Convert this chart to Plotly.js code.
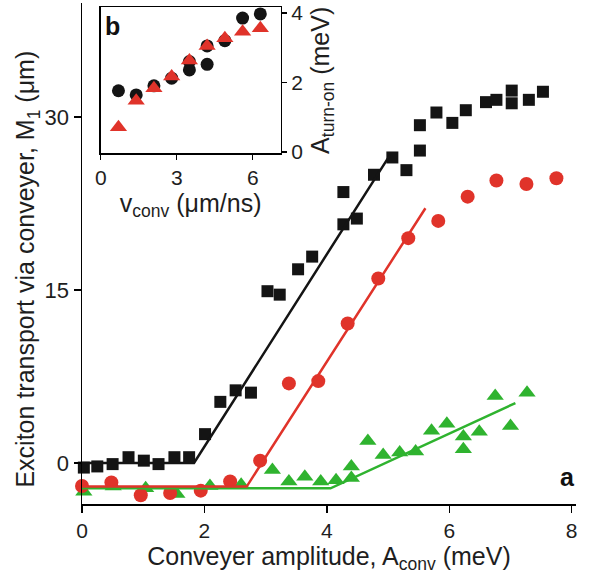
<!DOCTYPE html>
<html>
<head>
<meta charset="utf-8">
<script src="https://cdn.plot.ly/plotly-3.0.1.min.js"></script>
<style>
  html, body { margin: 0; padding: 0; background: #fff; }
  #chart { width: 590px; height: 583px; }
</style>
</head>
<body>
<div id="chart"></div>
<script>
// Panel a: exciton transport vs conveyer amplitude for three conveyer velocities
const blackX = [0.03, 0.25, 0.5, 0.76, 1.01, 1.25, 1.51, 1.75, 2.01, 2.26, 2.51, 2.76, 3.03, 3.23, 3.53, 3.76,
                4.27, 4.27, 4.49, 4.77, 5.07, 5.30, 5.52, 5.52, 5.79, 6.05, 6.27, 6.60, 6.77, 7.02, 7.02, 7.30, 7.53];
const blackY = [-0.4, -0.3, -0.1, 0.5, 0.2, -0.1, 0.5, 0.5, 2.5, 5.3, 6.3, 6.1, 14.9, 14.6, 16.8, 17.9,
                23.5, 20.7, 21.2, 25.0, 26.5, 25.4, 27.1, 29.3, 30.4, 29.5, 30.6, 31.3, 31.5, 32.3, 31.2, 31.5, 32.2];

const redX = [0.0, 0.48, 0.96, 1.44, 1.94, 2.42, 2.91, 3.38, 3.86, 4.34, 4.84, 5.33, 5.82, 6.30, 6.77, 7.26, 7.75];
const redY = [-2.0, -1.7, -2.8, -2.6, -2.4, -1.6, 0.2, 6.9, 7.1, 12.1, 16.0, 19.5, 21.0, 23.1, 24.5, 24.2, 24.7];

const greenX = [0.03, 0.51, 1.04, 1.55, 2.09, 2.6, 3.11, 3.38, 3.64, 3.9, 4.15, 4.4, 4.4, 4.67, 4.92, 5.19,
                5.45, 5.71, 5.96, 6.23, 6.23, 6.49, 6.75, 7.0, 7.27];
const greenY = [-2.5, -2.05, -2.2, -2.7, -2.0, -1.9, -0.6, -1.6, -1.2, -1.6, -1.5, -0.3, -1.3, 1.9, 0.7, 0.9,
                1.0, 2.8, 3.4, 2.3, 1.2, 2.7, 5.8, 3.2, 6.1];

// Piecewise-linear fits (flat background, then linear rise)
const blackFitX = [0, 1.83, 5.03];
const blackFitY = [0.0, 0.0, 26.7];
const redFitX = [0, 2.69, 5.61];
const redFitY = [-2.05, -2.05, 22.1];
const greenFitX = [0, 4.06, 7.08];
const greenFitY = [-2.2, -2.2, 5.2];

// Panel b: turn-on amplitude vs conveyer velocity
const insetBlackX = [0.7, 1.4, 2.1, 2.8, 3.5, 3.5, 4.2, 4.2, 4.9, 5.6, 6.3];
const insetBlackY = [1.76, 1.64, 1.90, 2.12, 2.60, 2.36, 3.05, 2.52, 3.20, 3.85, 3.97];
const insetRedX = [0.7, 1.4, 2.1, 2.8, 3.5, 4.2, 4.9, 5.6, 6.3];
const insetRedY = [0.71, 1.47, 1.83, 2.17, 2.63, 3.05, 3.27, 3.46, 3.56];

// Tick labels
const mainXTicks = [0, 2, 4, 6, 8];
const mainYTicks = [0, 15, 30];
const insetXTicks = [0, 3, 6];
const insetYTicks = [0, 2, 4];

const BLACK = '#141414';
const RED = '#e0332a';
const GREEN = '#2fb32f';
const GREEN_TEXT = '#339933';
const TEXT = '#1e1e1e';
const FONT = 'Liberation Sans, Arial, Helvetica, sans-serif';

function markers(x, y, symbol, color, size, xa, ya) {
  return {
    x: x, y: y, xaxis: xa, yaxis: ya, type: 'scatter', mode: 'markers',
    marker: { symbol: symbol, color: color, size: size, line: { width: 0 } },
    hoverinfo: 'skip', cliponaxis: false
  };
}
function fitLine(x, y, color) {
  return {
    x: x, y: y, xaxis: 'x', yaxis: 'y', type: 'scatter', mode: 'lines',
    line: { color: color, width: 2.5 }, hoverinfo: 'skip'
  };
}

const traces = [
  markers(greenX, greenY, 'triangle-up', GREEN, 15, 'x', 'y'),
  markers(redX, redY, 'circle', RED, 14, 'x', 'y'),
  markers(blackX, blackY, 'square', BLACK, 12, 'x', 'y'),
  fitLine(greenFitX, greenFitY, GREEN),
  fitLine(redFitX, redFitY, RED),
  fitLine(blackFitX, blackFitY, BLACK),
  markers(insetBlackX, insetBlackY, 'circle', BLACK, 13, 'x2', 'y2'),
  markers(insetRedX, insetRedY, 'triangle-up', RED, 15, 'x2', 'y2')
];

const axisCommon = {
  showgrid: false, zeroline: false, showline: true, linecolor: '#000', linewidth: 1.5,
  ticks: 'outside', tickcolor: '#000', tickwidth: 1.5,
  tickfont: { family: FONT, size: 22, color: TEXT }
};

const layout = {
  width: 590, height: 583,
  margin: { l: 82, r: 14, t: 3, b: 79 },
  paper_bgcolor: '#fff', plot_bgcolor: 'rgba(0,0,0,0)',
  showlegend: false,
  font: { family: FONT, color: TEXT },
  xaxis: Object.assign({}, axisCommon, {
    domain: [0, 1], range: [0, 8.07], tickvals: mainXTicks, ticklen: 7, anchor: 'y',
    tickfont: { family: FONT, size: 21, color: TEXT },
    title: { text: 'Conveyer amplitude, A<sub>conv</sub> (meV)', font: { family: FONT, size: 25, color: TEXT }, standoff: 6 }
  }),
  yaxis: Object.assign({}, axisCommon, {
    domain: [0, 1], range: [-3.56, 39.9], tickvals: mainYTicks, ticklen: 7, anchor: 'x'
  }),
  xaxis2: Object.assign({}, axisCommon, {
    domain: [0.0379, 0.402], range: [0, 7.1], tickvals: insetXTicks, ticklen: 5, anchor: 'y2', mirror: true,
    tickfont: { family: FONT, size: 21, color: TEXT },
    title: { text: 'v<sub>conv</sub> (μm/ns)', font: { family: FONT, size: 25, color: TEXT }, standoff: 6 }
  }),
  yaxis2: Object.assign({}, axisCommon, {
    domain: [0.700, 0.9914], range: [-0.04, 4.16], tickvals: insetYTicks, ticklen: 5, anchor: 'x2', side: 'right', mirror: true,
    tickfont: { family: FONT, size: 21, color: TEXT },
    title: { text: 'A<sub>turn-on</sub> (meV)', font: { family: FONT, size: 25, color: TEXT }, standoff: 9 }
  }),
  annotations: [
    // main y-axis title, placed by hand so it can sit slightly below the plot centre
    { xref: 'paper', yref: 'paper', x: -0.1113, y: 0.468, xanchor: 'center', yanchor: 'middle', showarrow: false,
      textangle: -90, text: 'Exciton transport via conveyer, M<sub>1</sub> (μm)', font: { family: FONT, size: 25, color: TEXT } },
    { xref: 'x', yref: 'y', x: 8.18, y: 34.1, xanchor: 'right', yanchor: 'middle', showarrow: false,
      text: 'v<sub>conv</sub>=0.7 μm/ns', font: { family: FONT, size: 20, color: '#111' } },
    { xref: 'x', yref: 'y', x: 8.18, y: 26.45, xanchor: 'right', yanchor: 'middle', showarrow: false,
      text: '3.5 μm/ns', font: { family: FONT, size: 20, color: RED } },
    { xref: 'x', yref: 'y', x: 8.18, y: 8.0, xanchor: 'right', yanchor: 'middle', showarrow: false,
      text: '6.3 μm/ns', font: { family: FONT, size: 20, color: GREEN_TEXT } },
    { xref: 'x', yref: 'y', x: 7.93, y: -1.2, xanchor: 'center', yanchor: 'middle', showarrow: false,
      text: '<b>a</b>', font: { family: FONT, size: 25, color: '#111' } },
    { xref: 'x2', yref: 'y2', x: 0.45, y: 3.62, xanchor: 'center', yanchor: 'middle', showarrow: false,
      text: '<b>b</b>', font: { family: FONT, size: 25, color: '#111' } }
  ]
};

Plotly.newPlot('chart', traces, layout, { staticPlot: true, displayModeBar: false });
</script>
</body>
</html>
